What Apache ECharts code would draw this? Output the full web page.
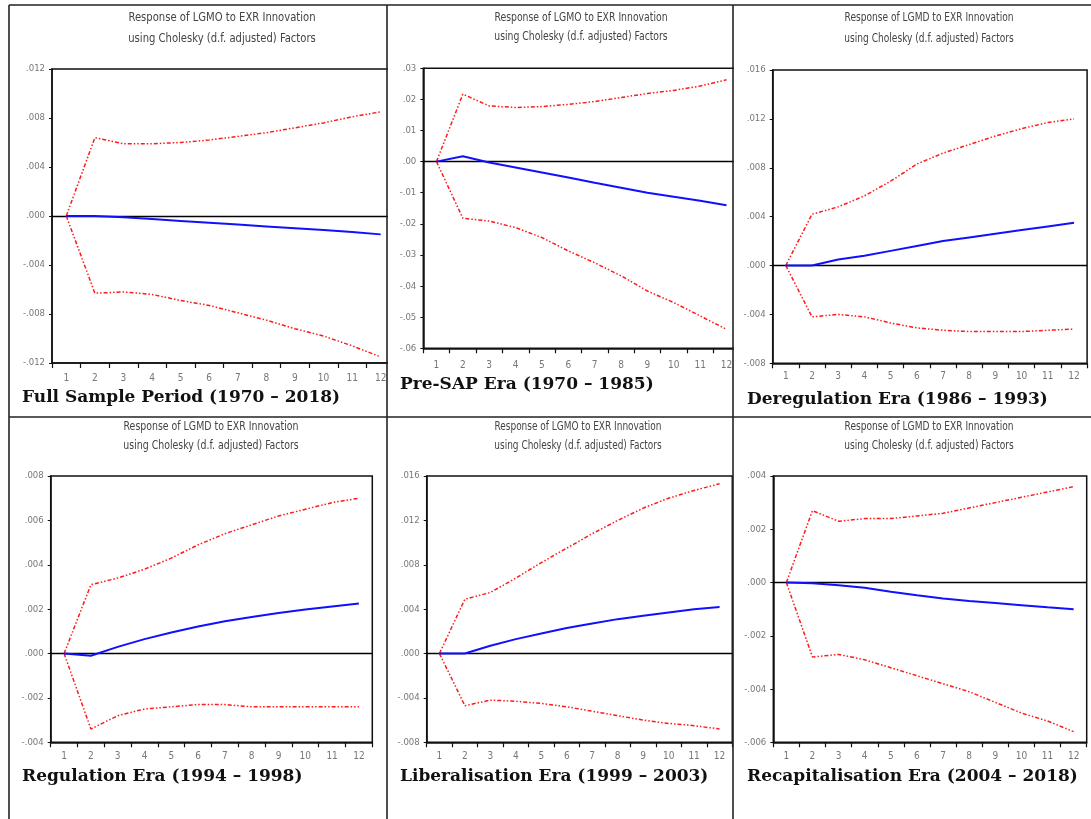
<!DOCTYPE html>
<html>
<head>
<meta charset="utf-8">
<script src="https://cdn.jsdelivr.net/npm/echarts@6/dist/echarts.min.js"></script>
<style>
html,body{margin:0;padding:0;background:#fff;}
#chart{width:1091px;height:819px;}
</style>
</head>
<body>
<div id="chart"></div>
<script>
// ---- Data ----
const periods = ['1','2','3','4','5','6','7','8','9','10','11','12'];

const titleLine1 = [
  'Response of LGMO to EXR Innovation',
  'Response of LGMO to EXR Innovation',
  'Response of LGMD to EXR Innovation',
  'Response of LGMD to EXR Innovation',
  'Response of LGMO to EXR Innovation',
  'Response of LGMD to EXR Innovation'
];
const titleLine2 = 'using Cholesky (d.f. adjusted) Factors';

const panelLabels = [
  'Full Sample Period (1970 \u2013 2018)',
  'Pre-SAP Era (1970 \u2013 1985)',
  'Deregulation Era (1986 \u2013 1993)',
  'Regulation Era (1994 \u2013 1998)',
  'Liberalisation Era (1999 \u2013 2003)',
  'Recapitalisation Era (2004 \u2013 2018)'
];

// y-axis ranges
const yMin = [-0.012, -0.06, -0.008, -0.004, -0.008, -0.006];
const yMax = [0.012, 0.03, 0.016, 0.008, 0.016, 0.004];
const yStep = [0.004, 0.01, 0.004, 0.002, 0.004, 0.002];
const yDecimals = [3, 2, 3, 3, 3, 3];

const p1Resp  = [0, 0, -0.0001, -0.00025, -0.0004, -0.00055, -0.0007, -0.00085, -0.001, -0.00115, -0.0013, -0.0015];
const p1Upper = [0, 0.0064, 0.0059, 0.0059, 0.0060, 0.0062, 0.0065, 0.0068, 0.0072, 0.0076, 0.0081, 0.0085];
const p1Lower = [0, -0.0063, -0.0062, -0.0064, -0.0069, -0.0073, -0.0079, -0.0085, -0.0092, -0.0098, -0.0106, -0.0115];

const p2Resp  = [0, 0.0017, -0.0003, -0.0019, -0.0035, -0.0051, -0.0068, -0.0084, -0.0100, -0.0113, -0.0126, -0.0140];
const p2Upper = [0, 0.0217, 0.0179, 0.0174, 0.0177, 0.0184, 0.0193, 0.0206, 0.0219, 0.0229, 0.0243, 0.0263];
const p2Lower = [0, -0.0182, -0.0191, -0.0212, -0.0244, -0.0287, -0.0325, -0.0367, -0.0416, -0.0453, -0.0496, -0.0539];

const p3Resp  = [0, 0, 0.0005, 0.0008, 0.0012, 0.0016, 0.0020, 0.0023, 0.0026, 0.0029, 0.0032, 0.0035];
const p3Upper = [0, 0.0042, 0.0048, 0.0057, 0.0069, 0.0083, 0.0092, 0.0099, 0.0106, 0.0112, 0.0117, 0.0120];
const p3Lower = [0, -0.0042, -0.0040, -0.0042, -0.0047, -0.0051, -0.0053, -0.0054, -0.0054, -0.0054, -0.0053, -0.0052];

const p4Resp  = [0, -0.0001, 0.0003, 0.00065, 0.00095, 0.00122, 0.00145, 0.00165, 0.00183, 0.00198, 0.00212, 0.00225];
const p4Upper = [0, 0.0031, 0.0034, 0.0038, 0.0043, 0.0049, 0.0054, 0.0058, 0.0062, 0.0065, 0.0068, 0.0070];
const p4Lower = [0, -0.0034, -0.0028, -0.0025, -0.0024, -0.0023, -0.0023, -0.0024, -0.0024, -0.0024, -0.0024, -0.0024];

const p5Resp  = [0, 0, 0.0007, 0.0013, 0.0018, 0.0023, 0.0027, 0.0031, 0.0034, 0.0037, 0.0040, 0.0042];
const p5Upper = [0, 0.0049, 0.0055, 0.0068, 0.0082, 0.0095, 0.0108, 0.0120, 0.0131, 0.0140, 0.0147, 0.0153];
const p5Lower = [0, -0.0047, -0.0042, -0.0043, -0.0045, -0.0048, -0.0052, -0.0056, -0.0060, -0.0063, -0.0065, -0.0068];

const p6Resp  = [0, -0.00003, -0.0001, -0.0002, -0.00035, -0.00048, -0.0006, -0.00069, -0.00077, -0.00085, -0.00093, -0.0010];
const p6Upper = [0, 0.0027, 0.0023, 0.0024, 0.0024, 0.0025, 0.0026, 0.0028, 0.0030, 0.0032, 0.0034, 0.0036];
const p6Lower = [0, -0.0028, -0.0027, -0.0029, -0.0032, -0.0035, -0.0038, -0.0041, -0.0045, -0.0049, -0.0052, -0.0056];

const respData  = [p1Resp, p2Resp, p3Resp, p4Resp, p5Resp, p6Resp];
const upperData = [p1Upper, p2Upper, p3Upper, p4Upper, p5Upper, p6Upper];
const lowerData = [p1Lower, p2Lower, p3Lower, p4Lower, p5Lower, p6Lower];

// ---- Layout ----
const grids = [
  {left: 52,    top: 69,   width: 343,   height: 294},
  {left: 423.3, top: 68.3, width: 316.4, height: 280},
  {left: 772.7, top: 70,   width: 314.4, height: 293.3},
  {left: 50.7,  top: 476,  width: 321.6, height: 266.3},
  {left: 426.7, top: 476,  width: 305.6, height: 266.3},
  {left: 773.3, top: 476,  width: 313.4, height: 266.3}
];
const xLabelMargin = [10, 12, 8, 9, 9, 9];
const titlePos = [
  {x: 222, y1: 18, y2: 39, sx: 0.93},
  {x: 581, y1: 18, y2: 37, sx: 0.86},
  {x: 929, y1: 18, y2: 39, sx: 0.84},
  {x: 211, y1: 427, y2: 446, sx: 0.87},
  {x: 578, y1: 427, y2: 446, sx: 0.83},
  {x: 929, y1: 427, y2: 446, sx: 0.84}
];
const labelPos = [
  {x: 22, y: 398}, {x: 400, y: 385}, {x: 747, y: 400},
  {x: 22, y: 777}, {x: 400, y: 777}, {x: 747, y: 777}
];

const narrow = "'Liberation Sans Narrow','DejaVu Sans Condensed','Liberation Sans',sans-serif";
const serif = "'DejaVu Serif','Liberation Serif',serif";

function fmt(d) {
  return function (v) {
    if (Math.abs(v) < 1e-12) v = 0;
    return v.toFixed(d).replace(/^(-?)0\./, '$1.');
  };
}

const option = {
  animation: false,
  backgroundColor: '#fff',
  grid: [], xAxis: [], yAxis: [], series: [], graphic: []
};

for (let i = 0; i < 6; i++) {
  const g = grids[i];
  option.grid.push({
    left: g.left, top: g.top, width: g.width, height: g.height,
    containLabel: false, outerBoundsMode: 'none',
    show: true, borderColor: '#111', borderWidth: 1.5, backgroundColor: 'transparent'
  });
  option.xAxis.push({
    type: 'category', gridIndex: i, data: periods, boundaryGap: true,
    axisLine: {show: true, onZero: false, lineStyle: {color: '#111', width: 1.5}},
    axisTick: {show: true, inside: false, length: 5, lineStyle: {color: '#111', width: 1.2}},
    axisLabel: {color: '#777', fontSize: 10, fontFamily: narrow, margin: xLabelMargin[i]},
    splitLine: {show: false}
  });
  option.yAxis.push({
    type: 'value', gridIndex: i, min: yMin[i], max: yMax[i], interval: yStep[i],
    axisLine: {show: true, onZero: false, lineStyle: {color: '#111', width: 1.5}},
    axisTick: {show: true, inside: false, length: 3, lineStyle: {color: '#111', width: 1}},
    axisLabel: {color: '#777', fontSize: 9.5, fontFamily: narrow, margin: 7, formatter: fmt(yDecimals[i])},
    splitLine: {show: false}
  });
  const redStyle = {color: '#ff1a1a', width: 1.5, type: [4, 2, 1.5, 2, 1.5, 2]};
  option.series.push({
    type: 'line', xAxisIndex: i, yAxisIndex: i, data: upperData[i],
    showSymbol: false, symbol: 'none', lineStyle: redStyle, z: 3, silent: true,
    markLine: {
      silent: true, symbol: ['none', 'none'], label: {show: false},
      lineStyle: {color: '#000', width: 1.3, type: 'solid'},
      data: [{yAxis: 0}], z: 2
    }
  });
  option.series.push({
    type: 'line', xAxisIndex: i, yAxisIndex: i, data: lowerData[i],
    showSymbol: false, symbol: 'none', lineStyle: redStyle, z: 3, silent: true
  });
  option.series.push({
    type: 'line', xAxisIndex: i, yAxisIndex: i, data: respData[i],
    showSymbol: false, symbol: 'none', lineStyle: {color: '#1010ff', width: 2}, z: 4, silent: true
  });

  const t = titlePos[i];
  option.graphic.push({
    type: 'text', x: t.x, y: t.y1, z: 50, scaleX: t.sx,
    style: {text: titleLine1[i], fill: '#444', font: '12px ' + narrow, textAlign: 'center', textVerticalAlign: 'middle'}
  });
  option.graphic.push({
    type: 'text', x: t.x, y: t.y2, z: 50, scaleX: t.sx,
    style: {text: titleLine2, fill: '#444', font: '12px ' + narrow, textAlign: 'center', textVerticalAlign: 'middle'}
  });
  const l = labelPos[i];
  option.graphic.push({
    type: 'text', x: l.x, y: l.y, z: 50,
    style: {text: panelLabels[i], fill: '#111', font: 'bold 17px ' + serif, textAlign: 'left', textVerticalAlign: 'middle'}
  });
}

// covers for plot parts clipped by the table cells
option.graphic.push({type: 'rect', z: 90, shape: {x: 388, y: 55, width: 9, height: 330}, style: {fill: '#fff'}});
option.graphic.push({type: 'rect', z: 90, shape: {x: 734, y: 55, width: 8, height: 320}, style: {fill: '#fff'}});

// table borders
const border = {stroke: '#222', lineWidth: 1.6};
[
  [9, 5, 1091, 5],
  [9, 5, 9, 819],
  [387, 5, 387, 819],
  [733, 5, 733, 819],
  [9, 417, 1091, 417]
].forEach(function (s) {
  option.graphic.push({type: 'line', z: 100, shape: {x1: s[0], y1: s[1], x2: s[2], y2: s[3]}, style: border});
});

const chart = echarts.init(document.getElementById('chart'), null, {renderer: 'canvas'});
chart.setOption(option);
</script>
</body>
</html>
